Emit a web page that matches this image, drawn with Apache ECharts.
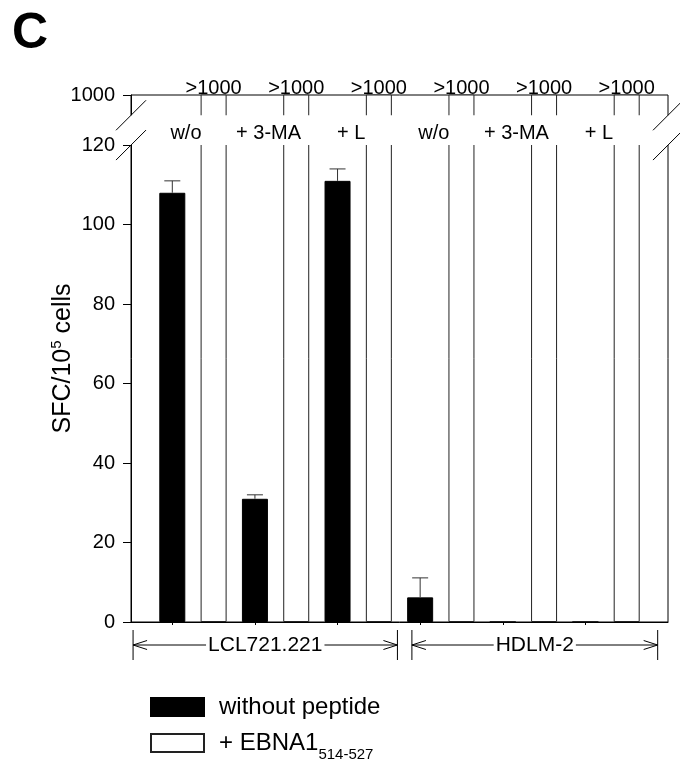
<!DOCTYPE html>
<html>
<head>
<meta charset="utf-8">
<script src="https://cdn.jsdelivr.net/npm/echarts@6/dist/echarts.min.js"></script>
<style>
html, body { margin: 0; padding: 0; background: #fff; }
#chart { width: 680px; height: 761px; }
</style>
</head>
<body>
<div id="chart"></div>
<script>
// cell lines and treatments
var cellLines = ['LCL721.221', 'HDLM-2'];
var conditions = ['w/o', '+ 3-MA', '+ L', 'w/o', '+ 3-MA', '+ L'];
// SFC/10^5 cells without peptide, and top of error bar
var noPeptide = [108, 31, 111, 6.2, 0, 0];
var noPeptideErr = [111, 32, 114, 11.1, null, null];
// + EBNA1 514-527: all wells >1000 (cut off by the axis break)
var withPeptide = [1000, 1000, 1000, 1000, 1000, 1000];
var topLabel = '>1000';
// y axis
var yTicks = [0, 20, 40, 60, 80, 100, 120];
var yBreakLabel = '1000';

var FONT = '"Liberation Sans", Arial, sans-serif';
var yMax = 132.6;          // where the 1000 line sits above the break
var breakLo = 120, breakHi = 127.5;

var chart = echarts.init(document.getElementById('chart'));

// black bar at 1,3,5..., white bar at 2,4,6...
var blackX = noPeptide.map(function (v, i) { return 1 + 2 * i; });
var blackData = noPeptide.map(function (v, i) { return [blackX[i], v]; });
var whiteData = withPeptide.map(function (v, i) { return [2 + 2 * i, v]; });
var errData = [];
noPeptideErr.forEach(function (e, i) {
  if (e != null) errData.push([blackX[i], noPeptide[i], e]);
});

var legendText = {
  color: '#000',
  rich: {
    t: { fontSize: 24, lineHeight: 24, padding: [0, 0, 0, 10], fontFamily: FONT, color: '#000' },
    s: { fontSize: 15, lineHeight: 15, verticalAlign: 'bottom', padding: [0, 0, -7, 0], fontFamily: FONT, color: '#000' }
  }
};
function legendFmt(name) {
  if (name === '+ EBNA1') return '{t|+ EBNA1}{s|514-527}';
  return '{t|' + name + '}';
}

var option = {
  animation: false,
  textStyle: { fontFamily: FONT },
  grid: {
    left: 131, right: 12, top: 95, bottom: 139,
    show: true, borderColor: '#000', borderWidth: 1, backgroundColor: 'transparent'
  },
  xAxis: {
    type: 'value', min: 0, max: 13,
    axisLine: { show: true, lineStyle: { color: '#000' } },
    axisTick: { show: true, customValues: blackX, length: 3, lineStyle: { color: '#000' } },
    axisLabel: { show: false }, splitLine: { show: false }
  },
  yAxis: {
    type: 'value', min: 0, max: yMax, interval: 20,
    name: '{t|SFC/10}{s|5}{t| cells}',
    nameLocation: 'middle', nameGap: 54, nameRotate: 90, nameMoveOverlap: false,
    nameTextStyle: {
      color: '#000',
      rich: {
        t: { fontSize: 25, lineHeight: 28, fontFamily: FONT, color: '#000' },
        s: { fontSize: 15, lineHeight: 15, verticalAlign: 'top', fontFamily: FONT, color: '#000' }
      }
    },
    axisLine: { show: true, lineStyle: { color: '#000' } },
    axisTick: { show: true, length: 8, lineStyle: { color: '#000' } },
    axisLabel: {
      color: '#000', fontSize: 20, margin: 16, showMaxLabel: true,
      formatter: function (v) {
        if (v > yTicks[yTicks.length - 1]) return yBreakLabel;
        return yTicks.indexOf(v) >= 0 ? String(v) : '';
      }
    },
    splitLine: { show: false }
  },
  legend: [
    { left: 150, top: 695, padding: 0, itemWidth: 53, itemHeight: 18, icon: 'rect',
      data: ['without peptide'], formatter: legendFmt, textStyle: legendText },
    { left: 150, top: 731, padding: 0, itemWidth: 53, itemHeight: 18, icon: 'rect',
      data: ['+ EBNA1'], formatter: legendFmt, textStyle: legendText }
  ],
  series: [
    {
      name: 'without peptide', type: 'bar', data: blackData,
      barWidth: 26, barGap: '-100%', clip: true,
      itemStyle: { color: '#000', borderColor: '#000', borderWidth: 1 }
    },
    {
      name: '+ EBNA1', type: 'bar', data: whiteData,
      barWidth: 26, barGap: '-100%', clip: true,
      itemStyle: { color: '#fff', borderColor: '#222', borderWidth: 1 }
    },
    {
      type: 'custom', data: errData, z: 3, clip: false,
      renderItem: function (params, api) {
        var lo = api.coord([api.value(0), api.value(1)]);
        var hi = api.coord([api.value(0), api.value(2)]);
        return {
          type: 'group', children: [
            { type: 'line', shape: { x1: lo[0], y1: lo[1], x2: hi[0], y2: hi[1] }, style: { stroke: '#333', lineWidth: 1 } },
            { type: 'line', shape: { x1: hi[0] - 8, y1: hi[1], x2: hi[0] + 8, y2: hi[1] }, style: { stroke: '#333', lineWidth: 1 } }
          ]
        };
      }
    }
  ]
};
chart.setOption(option);

// annotations: break band, slashes, labels, brackets
function px(x, y) { return chart.convertToPixel({ gridIndex: 0 }, [x, y]); }
var g = [];
function txt(s, x, y, size, va, extra) {
  var st = { text: s, font: size + 'px ' + FONT, fill: '#000',
    align: 'center', textAlign: 'center', verticalAlign: va, textVerticalAlign: va };
  for (var k in extra) st[k] = extra[k];
  g.push({ type: 'text', x: x, y: y, z: 102, style: st });
}
function seg(x1, y1, x2, y2, z) {
  g.push({ type: 'line', z: z || 101, shape: { x1: x1, y1: y1, x2: x2, y2: y2 }, style: { stroke: '#000', lineWidth: 1 } });
}

var pL = px(0, breakHi), pR = px(13, breakLo);
g.push({ type: 'rect', z: 100, shape: { x: pL[0] - 2, y: pL[1], width: pR[0] - pL[0] + 4, height: pR[1] - pL[1] },
  style: { fill: '#fff' } });
[pL[0], pR[0]].forEach(function (ax) {
  [pL[1], pR[1]].forEach(function (ey) { seg(ax - 15, ey + 15, ax + 15, ey - 15); });
});

var topY = px(0, yMax)[1];
withPeptide.forEach(function (v, i) {
  var p = px(2 + 2 * i, yMax);
  txt(topLabel, p[0], topY + 3, 20, 'bottom');
});
conditions.forEach(function (c, i) {
  var p = px(1.33 + 2 * i, 123);
  txt(c, p[0], p[1], 20, 'middle');
});

// cell line brackets under the axis
var baseY = px(0, 0)[1];
var spans = [[0.05, 6.45], [6.8, 12.75]];
cellLines.forEach(function (name, i) {
  var a = px(spans[i][0], 0)[0], b = px(spans[i][1], 0)[0];
  var yl = baseY + 23;
  seg(a, baseY + 8, a, baseY + 38, 99);
  seg(b, baseY + 8, b, baseY + 38, 99);
  seg(a, yl, b, yl, 99);
  seg(a, yl, a + 14, yl - 4.5, 99); seg(a, yl, a + 14, yl + 4.5, 99);
  seg(b, yl, b - 14, yl - 4.5, 99); seg(b, yl, b - 14, yl + 4.5, 99);
  txt(name, (a + b) / 2, yl, 21, 'middle', { backgroundColor: '#fff', padding: [0, 2] });
});

g.push({ type: 'text', x: 12, y: 9, z: 102, style: { text: 'C', font: 'bold 50px ' + FONT, fill: '#000' } });

chart.setOption({ graphic: g });
</script>
</body>
</html>
